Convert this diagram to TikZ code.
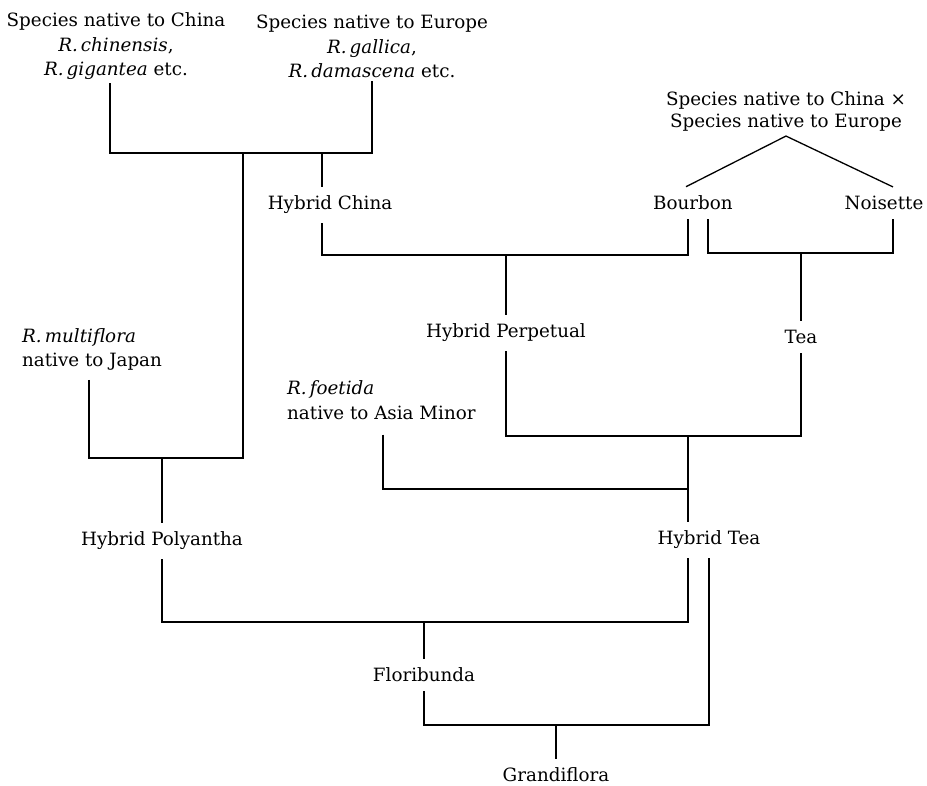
\documentclass[tikz,border=0pt]{standalone}
\usepackage{fontspec}
\setmainfont{DejaVu Serif}
\usetikzlibrary{calc}

\tikzset{
  rose/.style={inner xsep=2pt, inner ysep=9pt, align=center,
    font=\fontsize{18.3}{24.5}\selectfont},
  wild/.style={rose, align=left, anchor=west},
  ln/.style={line width=1.3pt}
}

\begin{document}
\begin{tikzpicture}[x=1pt,y=-1pt]
\useasboundingbox (0,0) rectangle (927,786);

% wild species
\node[rose,inner ysep=3pt] (chn) at (116,46.5) {Species native to China\\ \textit{R.\,chinensis},\\ \textit{R.\,gigantea} etc.};
\node[rose,inner ysep=3pt] (eur) at (372,46.5) {Species native to Europe\\ \textit{R.\,gallica},\\ \textit{R.\,damascena} etc.};
\node[rose,inner ysep=5pt,font=\fontsize{18.3}{22}\selectfont] (cxe) at (786,111) {Species native to China ×\\ Species native to Europe};
\node[wild] (mul) at (20,349.5) {\textit{R.\,multiflora}\\ native to Japan};
\node[wild,inner ysep=15pt] (foe) at (285,400) {\textit{R.\,foetida}\\ native to Asia Minor};

% garden groups
\node[rose] (hch) at (330,205) {Hybrid China};
\node[rose] (bou) at (693,203) {Bourbon};
\node[rose] (noi) at (884,203) {Noisette};
\node[rose] (hpe) at (506,333) {Hybrid Perpetual};
\node[rose] (tea) at (801,337) {Tea};
\node[rose] (hpo) at (162,541) {Hybrid Polyantha};
\node[rose] (hte) at (709,540) {Hybrid Tea};
\node[rose] (flo) at (424,675) {Floribunda};
\node[rose] (gra) at (556,775) {Grandiflora};

\coordinate (j1) at (243,153);
\coordinate (j2) at (322,153);
\coordinate (j3) at (162,458);
\coordinate (j4) at (506,255);
\coordinate (j5) at (801,253);
\coordinate (j6) at (688,436);
\coordinate (j7) at (688,489);
\coordinate (j8) at (424,622);
\coordinate (j9) at (556,725);

\draw[ln] (chn.south -| 110,0) |- (j1) -| (eur.south -| 372,0);
\draw[ln] (j2) -- (hch.north -| j2);
\draw[ln] (mul.south -| 89,0) |- (j3) -| (j1);
\draw[ln] (j3) -- (hpo.north);

\draw[ln] (bou.north -| 686,0) -- (cxe.south) -- (noi.north -| 893,0);
\draw[ln] (hch.south -| j2) |- (j4) -| (bou.south -| 688,0);
\draw[ln] (j4) -- (hpe.north);
\draw[ln] (bou.south -| 708,0) |- (j5) -| (noi.south -| 893,0);
\draw[ln] (j5) -- (tea.north);

\draw[ln] (hpe.south) |- (j6) -| (tea.south);
\draw[ln] (j6) -- (hte.north -| j6);
\draw[ln] (foe.south -| 383,0) |- (j7);

\draw[ln] (hpo.south) |- (j8) -| (hte.south -| j6);
\draw[ln] (j8) -- (flo.north);
\draw[ln] (flo.south) |- (j9) -| (hte.south -| 709,0);
\draw[ln] (j9) -- (gra.north);
\end{tikzpicture}
\end{document}
